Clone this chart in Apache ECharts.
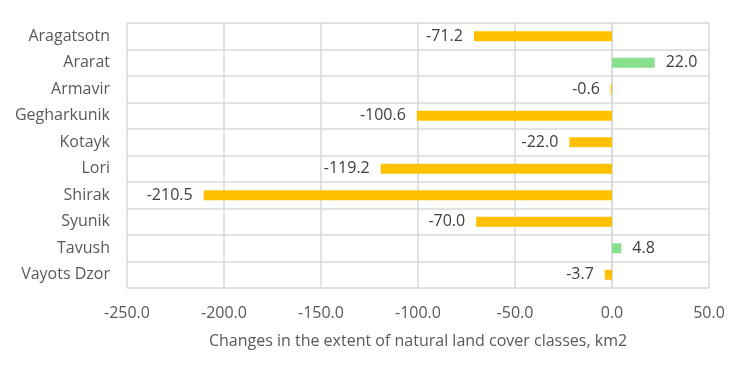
<!DOCTYPE html>
<html>
<head>
<meta charset="utf-8">
<script src="https://cdn.jsdelivr.net/npm/echarts@6/dist/echarts.min.js"></script>
<style>html,body{margin:0;padding:0;background:#fff;}#c{width:750px;height:378px;}</style>
</head>
<body>
<div id="c"></div>
<script>
var categories = ['Aragatsotn','Ararat','Armavir','Gegharkunik','Kotayk','Lori','Shirak','Syunik','Tavush','Vayots Dzor'];
var values = [-71.2, 22.0, -0.6, -100.6, -22.0, -119.2, -210.5, -70.0, 4.8, -3.7];
var xTicks = {min: -250, max: 50, interval: 50};
var axisName = 'Changes in the extent of natural land cover classes, km2';

var FONT = 'Open Sans';
var TXT = '#595959';
var chart = echarts.init(document.getElementById('c'), null, {renderer: 'canvas'});
var data = values.map(function (v) {
  var neg = v < 0;
  return {
    value: v,
    itemStyle: {color: neg ? '#FFC000' : '#88E08F'},
    label: {position: neg ? 'left' : 'right'}
  };
});
chart.setOption({
  animation: false,
  grid: {left: 127, right: 41, top: 23, bottom: 90, containLabel: false},
  xAxis: {
    type: 'value', min: xTicks.min, max: xTicks.max, interval: xTicks.interval,
    name: axisName, nameLocation: 'middle', nameGap: 45,
    nameTextStyle: {color: TXT, fontFamily: FONT, fontSize: 16},
    axisLine: {show: false}, axisTick: {show: false},
    axisLabel: {color: TXT, fontFamily: FONT, fontSize: 16, margin: 17,
      formatter: function (v) { return v.toFixed(1); }},
    splitLine: {show: true, lineStyle: {color: '#D9D9D9', width: 1.5}}
  },
  yAxis: {
    type: 'category', data: categories, inverse: true,
    axisLine: {show: true, lineStyle: {color: '#D9D9D9', width: 1.5}},
    axisTick: {show: false},
    axisLabel: {color: TXT, fontFamily: FONT, fontSize: 16, margin: 17},
    splitLine: {show: true, lineStyle: {color: '#D9D9D9', width: 1.5}}
  },
  series: [{
    type: 'bar', data: data, barWidth: 10,
    label: {show: true, distance: 11, color: '#404040', fontFamily: FONT, fontSize: 16,
      formatter: function (p) { return p.value.toFixed(1); }}
  }]
});
</script>
</body>
</html>
